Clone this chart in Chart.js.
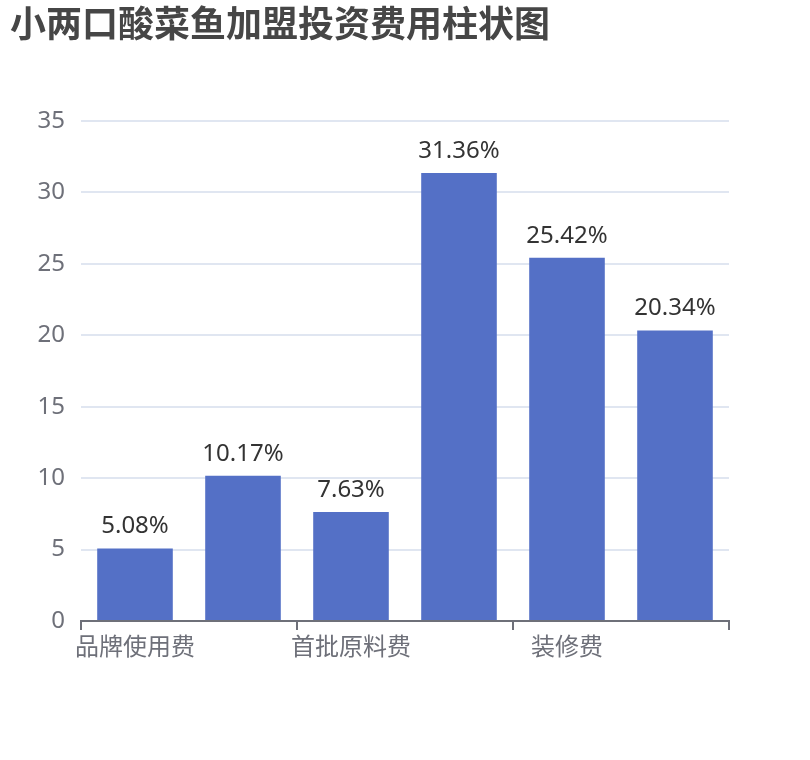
<!DOCTYPE html>
<html>
<head>
<meta charset="utf-8">
<script src="https://cdn.jsdelivr.net/npm/chart.js@4/dist/chart.umd.min.js"></script>
<style>
  html, body { margin: 0; padding: 0; background: #fff; }
  #wrap { width: 810px; height: 760px; position: relative; }
</style>
</head>
<body>
<div id="wrap"><canvas id="c"></canvas></div>
<script>
const categories = ['品牌使用费', '加盟保证金', '首批原料费', '设备费用', '装修费', '房租费用'];
const values = [5.08, 10.17, 7.63, 31.36, 25.42, 20.34];
const valueLabels = ['5.08%', '10.17%', '7.63%', '31.36%', '25.42%', '20.34%'];
const yTicks = [0, 5, 10, 15, 20, 25, 30, 35];

const FONT = '"Noto Sans", "Noto Sans CJK SC", sans-serif';

const barLabelPlugin = {
  id: 'barLabels',
  afterDatasetsDraw(chart) {
    const ctx = chart.ctx;
    const meta = chart.getDatasetMeta(0);
    ctx.save();
    ctx.font = '24px ' + FONT;
    ctx.fillStyle = '#333333';
    ctx.textAlign = 'center';
    ctx.textBaseline = 'alphabetic';
    meta.data.forEach((bar, i) => {
      ctx.fillText(valueLabels[i], bar.x, bar.y - 15);
    });
    ctx.restore();
  }
};

new Chart(document.getElementById('c'), {
  type: 'bar',
  data: {
    labels: categories,
    datasets: [{
      data: values,
      backgroundColor: '#5470c6',
      borderWidth: 0,
      barPercentage: 0.7,
      categoryPercentage: 1.0
    }]
  },
  plugins: [barLabelPlugin],
  options: {
    responsive: true,
    maintainAspectRatio: false,
    animation: false,
    layout: { padding: { left: 10, right: 81, top: 0, bottom: 0 } },
    plugins: {
      legend: { display: false },
      tooltip: { enabled: false },
      title: {
        display: true,
        text: '小两口酸菜鱼加盟投资费用柱状图',
        align: 'start',
        color: '#464646',
        font: { family: FONT, size: 36, weight: 'bold', lineHeight: 1.2 },
        padding: { top: 5.4, bottom: 72.4 }
      }
    },
    scales: {
      x: {
        offset: true,
        afterFit(scale) { scale.height = 139; },
        border: { display: true, color: '#6e7079', width: 2 },
        grid: {
          offset: true,
          drawOnChartArea: false,
          drawTicks: true,
          tickLength: 9,
          lineWidth: 2,
          color: (ctx) => (ctx.index === undefined || ctx.index % 2 === 0) ? '#6e7079' : 'rgba(0,0,0,0)',
          tickColor: (ctx) => (ctx.index === undefined || ctx.index % 2 === 0) ? '#6e7079' : 'rgba(0,0,0,0)'
        },
        ticks: {
          autoSkip: false,
          maxRotation: 0,
          padding: 4,
          color: '#6e7079',
          font: { family: FONT, size: 24 },
          callback: (v, i) => (i % 2 === 0 ? categories[i] : '')
        }
      },
      y: {
        min: yTicks[0],
        max: yTicks[yTicks.length - 1],
        afterFit(scale) { scale.width = 71; },
        afterBuildTicks(scale) { scale.ticks = yTicks.map(v => ({ value: v })); },
        border: { display: false },
        grid: {
          drawTicks: false,
          lineWidth: 2,
          color: (ctx) => (ctx.tick && ctx.tick.value === 0) ? 'rgba(0,0,0,0)' : '#e0e6f1'
        },
        ticks: {
          padding: 16,
          color: '#6e7079',
          font: { family: FONT, size: 24 }
        }
      }
    }
  }
});
</script>
</body>
</html>
